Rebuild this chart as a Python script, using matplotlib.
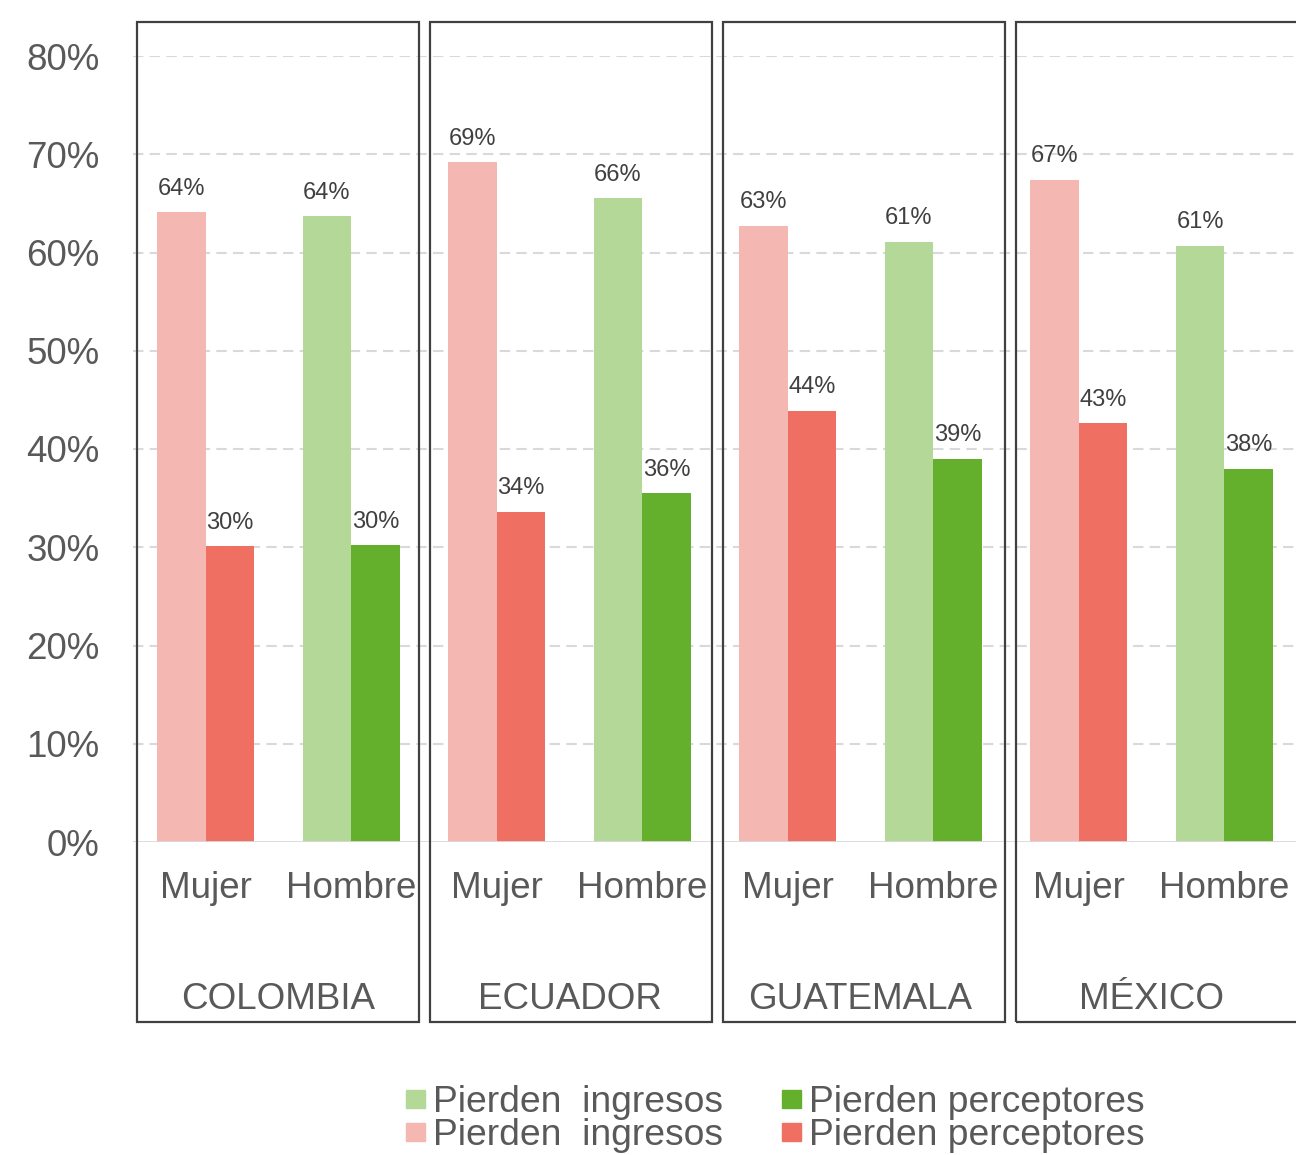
import matplotlib
matplotlib.use("Agg")
import matplotlib.pyplot as plt
import matplotlib.transforms as mtransforms
from matplotlib.patches import Rectangle
import numpy as np

plt.rcParams['font.family'] = ['Liberation Sans', 'DejaVu Sans']

countries = ["COLOMBIA", "ECUADOR", "GUATEMALA", "MÉXICO"]
genders = ["Mujer", "Hombre"]
# share of households, order: Colombia M/H, Ecuador M/H, Guatemala M/H, México M/H
pierden_ingresos = [0.641, 0.637, 0.692, 0.655, 0.627, 0.611, 0.674, 0.607]
pierden_perceptores = [0.301, 0.302, 0.336, 0.355, 0.439, 0.390, 0.426, 0.380]
yticks = [0.0, 0.1, 0.2, 0.3, 0.4, 0.5, 0.6, 0.7, 0.8]
legend_labels = ["Pierden  ingresos", "Pierden perceptores"]

col_light = {"Mujer": "#F5B7B1", "Hombre": "#B3D898"}
col_dark = {"Mujer": "#EF6F62", "Hombre": "#64B02D"}
tick_color = "#595959"
label_color = "#404040"

W, H = 1296, 1155
fig = plt.figure(figsize=(W / 100, H / 100), dpi=100)
ax = fig.add_axes([133 / W, 1 - 842 / H, (1297 - 133) / W, (842 - 56) / H])

n = len(pierden_ingresos)
x = np.arange(n)
g = [genders[i % 2] for i in range(n)]
bw = 1 / 3

b1 = ax.bar(x - bw / 2, pierden_ingresos, width=bw, color=[col_light[k] for k in g], zorder=3)
b2 = ax.bar(x + bw / 2, pierden_perceptores, width=bw, color=[col_dark[k] for k in g], zorder=3)

for bars, vals in ((b1, pierden_ingresos), (b2, pierden_perceptores)):
    for r, v in zip(bars, vals):
        ax.annotate(f"{v:.0%}", (r.get_x() + r.get_width() / 2, v),
                    xytext=(0, 9), textcoords="offset points",
                    ha="center", va="bottom", fontsize=17, color=label_color)

ax.set_xlim(-0.5, n - 0.5)
ax.set_ylim(0, 0.8)
ax.set_yticks(yticks)
ax.set_yticklabels([f"{t:.0%}" for t in yticks])
ax.tick_params(axis="y", length=0, pad=24, labelsize=26.5, labelcolor=tick_color)
ax.set_xticks([])
for s in ax.spines.values():
    s.set_visible(False)
for t in yticks[1:]:
    ax.axhline(t, color="#D9D9D9", lw=1.5, ls=(0, (5, 3)), zorder=1)
ax.axhline(0, color="#D9D9D9", lw=2, zorder=4)
ax.patch.set_alpha(0)

trans = mtransforms.blended_transform_factory(ax.transData, fig.transFigure)
for i in range(n):
    ax.text(x[i], 1 - 898 / H, g[i], transform=trans, ha="center", va="baseline",
            fontsize=26.5, color=tick_color)
for c, name in enumerate(countries):
    x0 = 2 * c - 0.5
    ax.text(x0 + 1, 1 - 1009 / H, name, transform=trans, ha="center", va="baseline",
            fontsize=26.5, color=tick_color)
    # outline frame around each country's pair of categories
    left = 137 + 293 * c
    rect = Rectangle((left / W, 1 - 1022 / H), 282 / W, 1000 / H, transform=fig.transFigure,
                     fill=False, ec="#404040", lw=1.6, clip_on=False, zorder=5)
    fig.add_artist(rect)

# legend: two columns, light/dark for each gender
rows = [("Hombre", 1 - 1112 / H), ("Mujer", 1 - 1145 / H)]
cols = [(406, 433, col_light, legend_labels[0]), (782, 809, col_dark, legend_labels[1])]
for gender, yy in rows:
    for mx, tx, cmap, lab in cols:
        fig.add_artist(Rectangle((mx / W, yy + 4 / H), 19 / W, 18 / H,
                                 transform=fig.transFigure, color=cmap[gender]))
        fig.text(tx / W, yy, lab, ha="left", va="baseline", fontsize=26.8, color=tick_color)

fig.savefig("out.png", dpi=100)
